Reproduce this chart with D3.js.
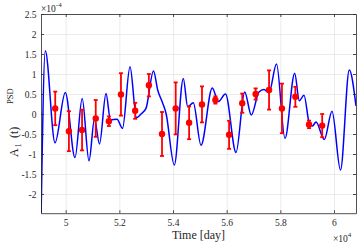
<!DOCTYPE html>
<html><head><meta charset="utf-8">
<script src="https://cdn.jsdelivr.net/npm/d3@7"></script>
<style>
body{margin:0;background:#fff;}
text{font-family:"Liberation Serif","Times New Roman",serif;}
</style>
</head><body>
<svg id="chart" width="357" height="243"></svg>
<script>
// ---- data ----
const xTicks = [50000, 52000, 54000, 56000, 58000, 60000];
const xTickLabels = ["5", "5.2", "5.4", "5.6", "5.8", "6"];
const yTicks = [-2, -1.5, -1, -0.5, 0, 0.5, 1, 1.5, 2, 2.5];
const yTickLabels = ["-2", "-1.5", "-1", "-0.5", "0", "0.5", "1", "1.5", "2", "2.5"];

// continuous PSD curve (units of 1e-4)
const curveDays = [49080, 49240, 49602, 49986, 50347, 50615, 50869, 51074, 51260, 51503,
  51670, 51913, 52117, 52397, 52639, 52807, 52993, 53273, 53429, 53616, 53739, 54048,
  54384, 54547, 54756, 55043, 55464, 55688, 55956, 56348, 56672, 56918, 57205, 57391,
  57578, 57857, 58174, 58535, 58707, 58882, 59087, 59199, 59329, 59639, 59926, 60242,
  60570, 60820];
const curveValues = [-2.7, 1.58, -0.72, 0.54, -1.09, 0.39, -1.17, -0.125, -0.75, 0.51,
  -0.15, -0.13, -0.36, 1.18, -0.09, 0.0, 0.14, 1.075, 0.6, 0.27, 0.02, -1.275,
  0.89, 0.18, 0.28, -0.78, 0.65, 0.31, 0.5, -0.96, 0.55, -0.025, 0.55, 0.61,
  0.53, 1.25, -0.61, 1.02, 0.33, 0.47, -0.25, -0.3, -0.2, -0.64, 0.07, -1.4,
  1.1, 0.2];

// binned estimates with error bars (units of 1e-4)
const obsDays = [49610, 50120, 50610, 51120, 51610, 52060, 52590, 53100, 53590, 54100,
  54600, 55080, 55580, 56090, 56580, 57080, 57580, 58060, 58560, 59070, 59560];
const obsValues = [0.14, -0.43, -0.40, -0.11, -0.18, 0.49, 0.08, 0.72, -0.50, 0.14,
  -0.22, 0.24, 0.35, -0.52, 0.27, 0.50, 0.60, 0.14, 0.43, -0.26, -0.29];
const obsErrors = [0.42, 0.50, 0.51, 0.46, 0.12, 0.53, 0.20, 0.28, 0.55, 0.65,
  0.41, 0.45, 0.09, 0.35, 0.24, 0.14, 0.49, 0.62, 0.25, 0.095, 0.29];

// ---- layout ----
const L = 41, R = 356, T = 14, B = 213.2;
const x = d3.scaleLinear().domain([49080, 60820]).range([L, R]);
const y = d3.scaleLinear().domain([-2.48, 2.5]).range([B, T]);

const svg = d3.select("#chart");
const axisColor = "#262626";

// grid
svg.append("g").attr("transform", `translate(0,${B})`)
  .call(d3.axisBottom(x).tickValues(xTicks).tickSize(-(B - T)).tickFormat(""))
  .call(g => g.select(".domain").remove())
  .call(g => g.selectAll("line").attr("stroke", "#e3e3e3").attr("stroke-width", 0.7));
svg.append("g").attr("transform", `translate(${L},0)`)
  .call(d3.axisLeft(y).tickValues(yTicks).tickSize(-(R - L)).tickFormat(""))
  .call(g => g.select(".domain").remove())
  .call(g => g.selectAll("line").attr("stroke", "#e3e3e3").attr("stroke-width", 0.7));

// clip
svg.append("clipPath").attr("id", "clip").append("rect")
  .attr("x", L).attr("y", T).attr("width", R - L).attr("height", B - T);

// curve
const curveData = curveDays.map((d, i) => [d, curveValues[i]]);
svg.append("path").datum(curveData)
  .attr("clip-path", "url(#clip)")
  .attr("fill", "none").attr("stroke", "#0000ff").attr("stroke-width", 1.5)
  .attr("d", d3.line().x(d => x(d[0])).y(d => y(d[1])).curve(d3.curveMonotoneX));

// error bars
const obs = obsDays.map((d, i) => ({d, v: obsValues[i], e: obsErrors[i]}));
const eb = svg.append("g").attr("stroke", "#ff0000").attr("stroke-width", 1.8);
eb.selectAll(".v").data(obs).join("line")
  .attr("x1", o => x(o.d)).attr("x2", o => x(o.d))
  .attr("y1", o => y(o.v - o.e)).attr("y2", o => y(o.v + o.e));
eb.selectAll(".t").data(obs).join("line")
  .attr("x1", o => x(o.d) - 2).attr("x2", o => x(o.d) + 2)
  .attr("y1", o => y(o.v + o.e)).attr("y2", o => y(o.v + o.e));
eb.selectAll(".b").data(obs).join("line")
  .attr("x1", o => x(o.d) - 2).attr("x2", o => x(o.d) + 2)
  .attr("y1", o => y(o.v - o.e)).attr("y2", o => y(o.v - o.e));
svg.append("g").selectAll("circle").data(obs).join("circle")
  .attr("cx", o => x(o.d)).attr("cy", o => y(o.v)).attr("r", 3.2)
  .attr("fill", "#ff0000");

// axes
function styleAxis(g) {
  g.selectAll(".domain").attr("stroke", axisColor).attr("stroke-width", 0.8);
  g.selectAll(".tick line").attr("stroke", axisColor).attr("stroke-width", 0.8);
  g.selectAll("text").attr("fill", axisColor).attr("font-size", 9.5)
    .attr("font-family", '"Liberation Serif", serif');
}
svg.append("g").attr("transform", `translate(0,${B})`)
  .call(d3.axisBottom(x).tickValues(xTicks).tickFormat((d, i) => xTickLabels[i])
    .tickSizeInner(-3).tickSizeOuter(0).tickPadding(6))
  .call(styleAxis);
svg.append("g").attr("transform", `translate(0,${T})`)
  .call(d3.axisTop(x).tickValues(xTicks).tickFormat("").tickSizeInner(-3).tickSizeOuter(0))
  .call(styleAxis);
svg.append("g").attr("transform", `translate(${L},0)`)
  .call(d3.axisLeft(y).tickValues(yTicks).tickFormat((d, i) => yTickLabels[i])
    .tickSizeInner(-3).tickSizeOuter(0).tickPadding(4.5))
  .call(styleAxis);
svg.append("g").attr("transform", `translate(${R},0)`)
  .call(d3.axisRight(y).tickValues(yTicks).tickFormat("").tickSizeInner(-3).tickSizeOuter(0))
  .call(styleAxis);

// exponent labels
const e1 = svg.append("text").attr("x", L).attr("y", 11.5).attr("font-size", 9.5).attr("fill", axisColor);
e1.append("tspan").text("\u00d710");
e1.append("tspan").attr("font-size", 7).attr("dy", -4.5).text("-4");
const e2 = svg.append("text").attr("x", 333).attr("y", 241.5).attr("font-size", 9.5).attr("fill", axisColor);
e2.append("tspan").text("\u00d710");
e2.append("tspan").attr("font-size", 7).attr("dy", -4.5).text("4");

// axis titles
svg.append("text").attr("x", 198.5).attr("y", 238.5).attr("text-anchor", "middle")
  .attr("font-size", 12).attr("fill", axisColor).text("Time [day]");
const yl = svg.append("text").attr("transform", "translate(17.5,157) rotate(-90)")
  .attr("font-size", 12).attr("fill", axisColor);
yl.append("tspan").attr("x", 0).attr("y", 0).text("A");
yl.append("tspan").attr("x", 9.5).attr("y", 3).attr("font-size", 8.5).text("1");
yl.append("tspan").attr("x", 19).attr("y", 0).text("(t)");
yl.append("tspan").attr("x", 53).attr("y", -5).attr("font-size", 8.5).text("PSD");
</script>
</body></html>
